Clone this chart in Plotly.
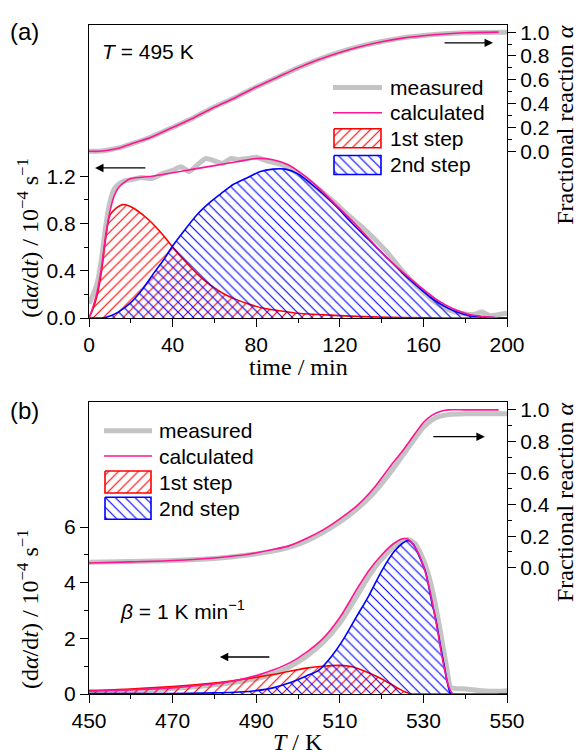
import plotly.graph_objects as go

# ---- panel (a): isothermal, T = 495 K ----
t_meas = [0, 2, 4, 6, 8, 10, 12, 14, 17, 20, 25, 30, 35, 40, 44, 48, 52, 56, 60, 64, 68, 72, 76, 80,
          85, 90, 95, 100, 106, 112, 118, 124, 130, 136, 142, 148, 154, 160, 166, 172, 178, 184, 188,
          192, 196, 200]
rate_meas_a = [0.12, 0.2, 0.3, 0.5, 0.78, 0.98, 1.09, 1.13, 1.16, 1.17, 1.19, 1.18, 1.22, 1.25, 1.28,
               1.24, 1.30, 1.35, 1.33, 1.31, 1.35, 1.34, 1.35, 1.36, 1.33, 1.31, 1.28, 1.22, 1.15, 1.06,
               0.97, 0.87, 0.78, 0.68, 0.57, 0.44, 0.32, 0.22, 0.13, 0.07, 0.04, 0.03, 0.05, 0.02, 0.03,
               0.04]
t_calc = [0, 2, 4, 6, 8, 10, 12, 14, 17, 20, 30, 40, 50, 60, 70, 80, 88, 95, 102, 110, 118, 126, 134,
          142, 150, 158, 166, 174, 182, 190, 196]
rate_calc_a = [0, 0.1, 0.23, 0.43, 0.70, 0.90, 1.03, 1.10, 1.15, 1.18, 1.20, 1.23, 1.26, 1.29, 1.32,
               1.35, 1.34, 1.30, 1.22, 1.10, 0.96, 0.82, 0.67, 0.52, 0.39, 0.27, 0.16, 0.08, 0.03, 0.01,
               0.0]
t_step1 = [0, 2, 4, 6, 8, 10, 13, 16, 19, 23, 28, 32, 36, 40, 46, 52, 58, 64, 70, 76, 84, 92, 100,
           110, 120, 135, 150, 170, 200]
step1_a = [0, 0.08, 0.2, 0.40, 0.68, 0.87, 0.93, 0.96, 0.95, 0.91, 0.84, 0.77, 0.69, 0.60, 0.48, 0.37,
           0.28, 0.21, 0.16, 0.12, 0.08, 0.06, 0.04, 0.03, 0.02, 0.01, 0.005, 0, 0]
t_step2 = [0, 6, 9, 14, 20, 25, 31, 36, 40, 46, 52, 58, 63, 69, 76, 82, 88, 94, 100, 106, 112, 118,
           126, 134, 142, 150, 157, 163, 170, 176, 182, 189, 196, 200]
step2_a = [0, 0, 0.01, 0.05, 0.13, 0.23, 0.38, 0.50, 0.61, 0.75, 0.88, 0.98, 1.05, 1.13, 1.19, 1.24,
           1.26, 1.26, 1.22, 1.14, 1.05, 0.95, 0.80, 0.66, 0.52, 0.38, 0.27, 0.18, 0.10, 0.05, 0.02,
           0.01, 0, 0]
t_alpha = [0, 5, 10, 15, 20, 30, 40, 50, 60, 70, 80, 90, 100, 110, 120, 130, 140, 150, 160, 170, 180,
           196]
alpha_calc_a = [0, 0.0, 0.01, 0.03, 0.06, 0.12, 0.2, 0.28, 0.37, 0.45, 0.54, 0.62, 0.70, 0.77, 0.83,
                0.88, 0.92, 0.95, 0.97, 0.985, 0.995, 1.0]
t_alpha_meas = [0, 5, 10, 15, 20, 30, 40, 50, 60, 70, 80, 90, 100, 110, 120, 130, 140, 150, 160, 170,
                180, 190, 200]
alpha_meas_a = [0, 0.0, 0.012, 0.032, 0.06, 0.122, 0.2, 0.282, 0.372, 0.452, 0.54, 0.62, 0.70, 0.772,
                0.832, 0.882, 0.922, 0.952, 0.972, 0.987, 0.995, 0.998, 1.0]

# ---- panel (b): linear heating, beta = 1 K/min ----
T_meas = [450, 460, 470, 480, 486, 490, 494, 498, 502, 506, 510, 514, 517, 520, 523, 525, 526.5, 528,
          529.5, 531, 532.5, 534, 535.5, 536.5, 537.5, 540, 544, 548, 550]
rate_meas_b = [0.08, 0.12, 0.2, 0.33, 0.45, 0.55, 0.72, 0.98, 1.35, 1.85, 2.55, 3.50, 4.25, 4.85, 5.30,
               5.50, 5.55, 5.40, 5.00, 4.40, 3.50, 2.30, 1.00, 0.25, 0.2, 0.18, 0.12, 0.1, 0.12]
T_calc = [450, 460, 470, 478, 484, 490, 494, 498, 502, 506, 510, 514, 517, 520, 523, 525, 526, 527,
          528.5, 530, 531.5, 533, 534.5, 536, 537, 540, 548]
rate_calc_b = [0.10, 0.15, 0.22, 0.33, 0.45, 0.66, 0.86, 1.12, 1.50, 2.00, 2.75, 3.75, 4.45, 5.00,
               5.42, 5.58, 5.58, 5.48, 5.15, 4.60, 3.75, 2.60, 1.30, 0.30, 0.02, 0, 0]
T_step1 = [450, 460, 470, 478, 484, 490, 494, 498, 502, 506, 510, 513, 516, 519, 522, 524, 525.5, 527,
           528, 550]
step1_b = [0.12, 0.18, 0.27, 0.37, 0.47, 0.60, 0.70, 0.82, 0.93, 1.00, 1.03, 0.98, 0.82, 0.62, 0.38,
           0.20, 0.08, 0.01, 0, 0]
T_step2 = [450, 470, 480, 486, 490, 494, 498, 502, 505, 508, 511, 514, 517, 520, 523, 525, 526.3,
           527.5, 529, 530.5, 532, 533, 534, 535, 536.4, 537, 550]
step2_b = [0.02, 0.02, 0.04, 0.07, 0.12, 0.22, 0.40, 0.65, 0.86, 1.35, 2.00, 2.78, 3.55, 4.42, 5.12,
           5.42, 5.52, 5.40, 4.95, 4.40, 3.30, 2.66, 1.80, 1.00, 0.05, 0, 0]
T_alpha = [450, 460, 470, 480, 488, 494, 498, 502, 506, 510, 514, 518, 522, 525, 528, 530, 532, 534,
           536, 540, 548]
alpha_calc_b = [0.03, 0.037, 0.046, 0.062, 0.085, 0.115, 0.14, 0.185, 0.24, 0.31, 0.39, 0.50, 0.64,
                0.74, 0.85, 0.92, 0.965, 0.99, 1.0, 1.0, 1.0]
T_alpha_meas = [450, 460, 470, 480, 488, 494, 498, 502, 506, 510, 514, 518, 522, 525, 528, 530, 532,
                534, 536, 540, 550]
alpha_meas_b = [0.035, 0.04, 0.045, 0.058, 0.08, 0.105, 0.13, 0.17, 0.225, 0.29, 0.37, 0.47, 0.60,
                0.71, 0.82, 0.89, 0.935, 0.96, 0.97, 0.975, 0.975]

legend_labels = ["measured", "calculated", "1st step", "2nd step"]

GREY = "#c4c4c4"
PINK = "#ff1493"
RED = "#ff0000"
BLUE = "#0000ff"
SANS = "Liberation Sans, Arial, sans-serif"
SERIF = "Liberation Serif, Times New Roman, serif"

# figure geometry (pixels)
W, H = 577, 756
L, R, T, B = 89, 70, 25, 62
PW, PH = W - L - R, H - T - B


def hatch(shape, color):
    return dict(shape=shape, fgcolor=color, bgcolor="rgba(0,0,0,0)", size=7, solidity=0.16,
                fgopacity=1)


fig = go.Figure()

panels = [
    dict(xa="x", ya="y", yb="y2", xm=t_meas, ym=rate_meas_a, xc=t_calc, yc=rate_calc_a,
         x1=t_step1, y1=step1_a, x2=t_step2, y2=step2_a, xam=t_alpha_meas, yam=alpha_meas_a,
         xac=t_alpha, yac=alpha_calc_a,
         xr=(0, 200), yr=(0, 2.48), top=25, bottom=318,
         leg_x=(333, 382), leg_rows=[87.5, 112.7, 138.3, 165], leg_box=9.5, leg_text=388),
    dict(xa="x2", ya="y3", yb="y4", xm=T_meas, ym=rate_meas_b, xc=T_calc, yc=rate_calc_b,
         x1=T_step1, y1=step1_b, x2=T_step2, y2=step2_b, xam=T_alpha_meas, yam=alpha_meas_b,
         xac=T_alpha, yac=alpha_calc_b,
         xr=(450, 550), yr=(0, 10.5), top=402, bottom=694,
         leg_x=(104, 152), leg_rows=[430.7, 456, 482, 508.3], leg_box=11, leg_text=157),
]

for p in panels:
    xa, ya, yb = p["xa"], p["ya"], p["yb"]
    spline = dict(shape="spline", smoothing=0.8)
    # fractional reaction (right axis)
    fig.add_trace(go.Scatter(x=p["xam"], y=p["yam"], xaxis=xa, yaxis=yb, mode="lines",
                             showlegend=False, line=dict(color=GREY, width=5, **spline)))
    fig.add_trace(go.Scatter(x=p["xac"], y=p["yac"], xaxis=xa, yaxis=yb, mode="lines",
                             showlegend=False, line=dict(color=PINK, width=1.6, **spline)))
    # rate curves (left axis)
    fig.add_trace(go.Scatter(x=p["xm"], y=p["ym"], xaxis=xa, yaxis=ya, mode="lines",
                             showlegend=False,
                             line=dict(color=GREY, width=5, shape="spline", smoothing=0.6)))
    fig.add_trace(go.Scatter(x=p["x1"], y=p["y1"], xaxis=xa, yaxis=ya, mode="lines",
                             showlegend=False, fill="tozeroy", fillcolor="rgba(0,0,0,0)",
                             fillpattern=hatch("/", RED), line=dict(color=RED, width=1.6, **spline)))
    fig.add_trace(go.Scatter(x=p["x2"], y=p["y2"], xaxis=xa, yaxis=ya, mode="lines",
                             showlegend=False, fill="tozeroy", fillcolor="rgba(0,0,0,0)",
                             fillpattern=hatch("\\", BLUE), line=dict(color=BLUE, width=1.6, **spline)))
    fig.add_trace(go.Scatter(x=p["xc"], y=p["yc"], xaxis=xa, yaxis=ya, mode="lines",
                             showlegend=False, line=dict(color=PINK, width=1.6, **spline)))

    # hand-made legend (line samples and hatched boxes) placed by pixel position
    x0, x1 = p["xr"]
    y0, y1 = p["yr"]

    def dx(px):
        return x0 + (px - L) * (x1 - x0) / PW

    def dy(py):
        return y0 + (p["bottom"] - py) * (y1 - y0) / (p["bottom"] - p["top"])

    lx0, lx1 = p["leg_x"]
    rows = p["leg_rows"]
    hb = p["leg_box"]
    fig.add_trace(go.Scatter(x=[dx(lx0), dx(lx1)], y=[dy(rows[0])] * 2, xaxis=xa, yaxis=ya,
                             mode="lines", showlegend=False, hoverinfo="skip",
                             line=dict(color=GREY, width=5)))
    fig.add_trace(go.Scatter(x=[dx(lx0), dx(lx1)], y=[dy(rows[1])] * 2, xaxis=xa, yaxis=ya,
                             mode="lines", showlegend=False, hoverinfo="skip",
                             line=dict(color=PINK, width=1.6)))
    for row, shape, col in [(rows[2], "/", RED), (rows[3], "\\", BLUE)]:
        bx = [dx(lx0 + 1), dx(lx1 - 1), dx(lx1 - 1), dx(lx0 + 1), dx(lx0 + 1)]
        by = [dy(row - hb), dy(row - hb), dy(row + hb), dy(row + hb), dy(row - hb)]
        fig.add_trace(go.Scatter(x=bx, y=by, xaxis=xa, yaxis=ya, mode="lines", fill="toself",
                                 fillcolor="rgba(0,0,0,0)", fillpattern=hatch(shape, col),
                                 showlegend=False, hoverinfo="skip",
                                 line=dict(color=col, width=1.6)))
    for lab, row in zip(legend_labels, rows):
        fig.add_annotation(text=lab, x=(p["leg_text"] - L) / PW, y=(H - B - row) / PH,
                           xref="paper", yref="paper", showarrow=False, xanchor="left",
                           yanchor="middle", font=dict(family=SANS, size=21, color="black"))

tick_style = dict(ticks="outside", ticklen=8, tickwidth=1.3, tickcolor="black",
                  tickfont=dict(family=SANS, size=21, color="black"),
                  showgrid=False, zeroline=False)
line_style = dict(showline=True, linecolor="black", linewidth=1.3, mirror=True)
minor_style = dict(ticks="outside", ticklen=4, tickwidth=1.3, tickcolor="black")
alpha_ticks = [0, 0.2, 0.4, 0.6, 0.8, 1.0]
alpha_minor = [0.1, 0.3, 0.5, 0.7, 0.9]

fig.update_layout(
    width=W, height=H,
    margin=dict(l=L, r=R, t=T, b=B),
    paper_bgcolor="white", plot_bgcolor="white",
    showlegend=False,
    xaxis=dict(domain=[0, 1], anchor="y", range=[0, 200], tickvals=[0, 40, 80, 120, 160, 200],
               minor=dict(tickvals=[20, 60, 100, 140, 180], **minor_style), **tick_style, **line_style),
    yaxis=dict(domain=[0.562, 1], anchor="x", range=[0, 2.48], tickvals=[0, 0.4, 0.8, 1.2],
               tickformat=".1f", minor=dict(tickvals=[0.2, 0.6, 1.0], **minor_style),
               **tick_style, **line_style),
    yaxis2=dict(overlaying="y", anchor="x", side="right", range=[-1.40, 1.06], tickvals=alpha_ticks,
                tickformat=".1f", minor=dict(tickvals=alpha_minor, **minor_style), **tick_style),
    xaxis2=dict(domain=[0, 1], anchor="y3", range=[450, 550],
                tickvals=[450, 470, 490, 510, 530, 550],
                minor=dict(tickvals=[460, 480, 500, 520, 540], **minor_style), **tick_style, **line_style),
    yaxis3=dict(domain=[0, 0.4365], anchor="x2", range=[0, 10.5], tickvals=[0, 2, 4, 6],
                minor=dict(tickvals=[1, 3, 5], **minor_style), **tick_style, **line_style),
    yaxis4=dict(overlaying="y3", anchor="x2", side="right", range=[-0.80, 1.05], tickvals=alpha_ticks,
                tickformat=".1f", minor=dict(tickvals=alpha_minor, **minor_style), **tick_style),
)

rate_title = "(d<i>α</i>/d<i>t</i>) / 10<sup>−4</sup> s<sup>−1</sup>"
alpha_title = "Fractional reaction <i>α</i>"
serif_font = dict(family=SERIF, size=24, color="black")
sans_font = dict(family=SANS, size=21, color="black")
label_font = dict(family=SANS, size=24, color="black")

texts = [
    (rate_title, -0.146, 0.682, -90, serif_font, "center"),
    (alpha_title, 1.139, 0.851, -90, serif_font, "center"),
    ("time / min", 0.5, 0.489, 0, serif_font, "center"),
    (rate_title, -0.146, 0.127, -90, serif_font, "center"),
    (alpha_title, 1.139, 0.287, -90, serif_font, "center"),
    ("<i>T</i> / K", 0.5, -0.072, 0, serif_font, "center"),
    ("(a)", -0.193, 0.991, 0, label_font, "left"),
    ("(b)", -0.193, 0.4235, 0, label_font, "left"),
    ("<i>T</i> = 495 K", 0.026, 0.96, 0, sans_font, "left"),
    ("<i>β</i> = 1 K min<sup>−1</sup>", 0.069, 0.126, 0, sans_font, "left"),
]
for txt, x, y, ang, fnt, xa in texts:
    fig.add_annotation(text=txt, x=x, y=y, xref="paper", yref="paper", showarrow=False,
                       textangle=ang, font=fnt, xanchor=xa, yanchor="middle")

arrows = [
    ("x", "y", 2.9, 1.27, 27.7, 1.27),
    ("x", "y2", 193.3, 0.91, 169.4, 0.91),
    ("x2", "y3", 481.3, 1.33, 493.5, 1.33),
    ("x2", "y4", 544.7, 0.83, 532.0, 0.83),
]
for xr, yr, hx, hy, tx, ty in arrows:
    fig.add_annotation(x=hx, y=hy, ax=tx, ay=ty, xref=xr, yref=yr, axref=xr, ayref=yr,
                       showarrow=True, arrowhead=2, arrowsize=1.3, arrowwidth=1.3,
                       arrowcolor="black", text="")

# the default page margin would push the 577 px figure out of the window
fig.write_html("out.html", config={"displayModeBar": False},
               post_script="document.body.style.margin='0';")
